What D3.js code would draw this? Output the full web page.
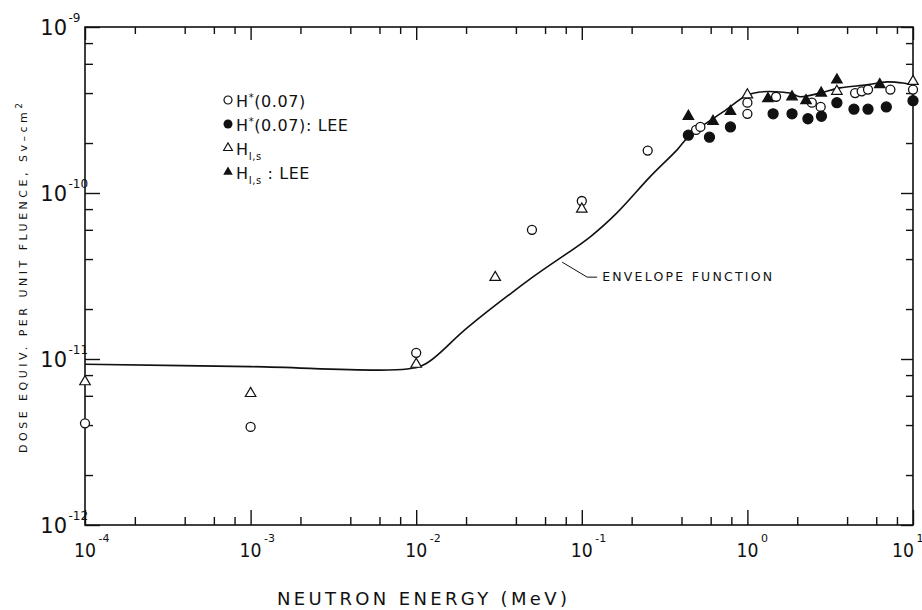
<!DOCTYPE html>
<html>
<head>
<meta charset="utf-8">
<script src="https://cdn.jsdelivr.net/npm/d3@7"></script>
<style>
  html, body { margin: 0; padding: 0; background: #fff; }
  svg { display: block; }
  text { font-family: "DejaVu Sans", "Liberation Sans", sans-serif; fill: #111; }
</style>
</head>
<body>
<div id="chart"></div>
<script>
// Dose equivalent per unit fluence vs neutron energy (log-log)

// envelope function, [energy MeV, dose Sv-cm2]
const envelopeE = [1e-4, 1e-3, 0.0088, 0.0115, 0.0203, 0.0507, 0.112, 0.163, 0.258, 0.376, 0.45, 0.713, 1.0, 1.19, 1.81, 2.08, 2.74, 3.62, 5.27, 6.97, 8.71, 10];
const envelopeD = [9.3e-12, 9.0e-12, 8.7e-12, 9.4e-12, 1.54e-11, 3.12e-11, 5.43e-11, 7.59e-11, 1.25e-10, 1.82e-10, 2.23e-10, 3.08e-10, 3.89e-10, 4.06e-10, 4.0e-10, 3.8e-10, 4.0e-10, 4.3e-10, 4.48e-10, 4.67e-10, 4.6e-10, 4.48e-10];

// H*(0.07) - open circles
const hStarE = [1e-4, 1e-3, 1e-2, 0.05, 0.1, 0.25, 0.49, 0.52, 1.0, 1.0, 1.49, 2.45, 2.77, 4.47, 4.9, 5.35, 7.3, 10];
const hStarD = [4.1e-12, 3.9e-12, 1.09e-11, 6.0e-11, 8.95e-11, 1.8e-10, 2.4e-10, 2.5e-10, 3.5e-10, 3.0e-10, 3.8e-10, 3.5e-10, 3.3e-10, 4.0e-10, 4.1e-10, 4.2e-10, 4.2e-10, 4.2e-10];

// H*(0.07): LEE - filled circles
const hStarLeeE = [0.44, 0.59, 0.79, 1.43, 1.86, 2.32, 2.8, 3.47, 4.4, 5.35, 6.9, 10];
const hStarLeeD = [2.23e-10, 2.17e-10, 2.5e-10, 3.0e-10, 3.0e-10, 2.8e-10, 2.9e-10, 3.5e-10, 3.2e-10, 3.2e-10, 3.3e-10, 3.6e-10];

// H_I,s - open triangles
const hIsE = [1e-4, 1e-3, 1e-2, 0.03, 0.1, 1.0, 3.47, 10];
const hIsD = [7.3e-12, 6.2e-12, 9.3e-12, 3.1e-11, 8.0e-11, 3.9e-10, 4.1e-10, 4.7e-10];

// H_I,s: LEE - filled triangles
const hIsLeeE = [0.44, 0.62, 0.79, 1.33, 1.86, 2.26, 2.79, 3.47, 6.3];
const hIsLeeD = [2.9e-10, 2.7e-10, 3.1e-10, 3.7e-10, 3.8e-10, 3.6e-10, 4.0e-10, 4.8e-10, 4.5e-10];

const xMajor = [1e-4, 1e-3, 1e-2, 1e-1, 1, 10];
const xMajorExp = ['-4', '-3', '-2', '-1', '0', '1'];
const yMajor = [1e-12, 1e-11, 1e-10, 1e-9];
const yMajorExp = ['-12', '-11', '-10', '-9'];

const width = 922, height = 610;
const margin = { top: 27, right: 9, bottom: 85, left: 85 };

const svg = d3.select('#chart').append('svg')
  .attr('width', width)
  .attr('height', height);

const x = d3.scaleLog().domain([1e-4, 10]).range([margin.left, width - margin.right]);
const y = d3.scaleLog().domain([1e-12, 1e-9]).range([height - margin.bottom, margin.top]);

// minor ticks at 2,4,6,8 of each decade
const minorOf = majors => majors.slice(0, -1).flatMap(d => [2, 4, 6, 8].map(m => m * d));
const xMinor = minorOf(xMajor);
const yMinor = minorOf(yMajor);

const x0 = x.range()[0], x1 = x.range()[1];
const y0 = y.range()[0], y1 = y.range()[1];

// Axes (ticks pointing inward on all four sides)
const addAxis = (axisFn, scale, values, size, transform) => {
  const g = svg.append('g')
    .attr('transform', transform)
    .call(axisFn(scale).tickValues(values).tickSize(size).tickFormat(''));
  g.select('.domain').remove();
  g.selectAll('line').attr('stroke', '#111').attr('stroke-width', 1.4);
};

addAxis(d3.axisBottom, x, xMajor, -15, `translate(0,${y0})`);
addAxis(d3.axisBottom, x, xMinor, -8, `translate(0,${y0})`);
addAxis(d3.axisTop, x, xMajor, -13, `translate(0,${y1})`);
addAxis(d3.axisTop, x, xMinor, -7, `translate(0,${y1})`);
addAxis(d3.axisLeft, y, yMajor, -15, `translate(${x0},0)`);
addAxis(d3.axisLeft, y, yMinor, -8, `translate(${x0},0)`);
addAxis(d3.axisRight, y, yMajor, -12, `translate(${x1},0)`);
addAxis(d3.axisRight, y, yMinor, -7, `translate(${x1},0)`);

// Frame
svg.append('rect')
  .attr('x', x0).attr('y', y1)
  .attr('width', x1 - x0).attr('height', y0 - y1)
  .attr('fill', 'none')
  .attr('stroke', '#111')
  .attr('stroke-width', 1.6);

// Tick labels: "10" with superscript exponent
const xLabels = svg.append('g');
xMajor.forEach((v, i) => {
  const last = i === xMajor.length - 1;
  const tx = last ? x(v) - 10 : x(v);
  xLabels.append('text')
    .attr('x', tx).attr('y', y0 + 32)
    .attr('text-anchor', 'middle')
    .attr('font-size', 20)
    .attr('textLength', 22)
    .attr('lengthAdjust', 'spacingAndGlyphs')
    .text('10');
  xLabels.append('text')
    .attr('x', tx + 13.5).attr('y', y0 + 17)
    .attr('font-size', 11)
    .text(xMajorExp[i]);
});

const yLabels = svg.append('g');
yMajor.forEach((v, i) => {
  yLabels.append('text')
    .attr('x', 67).attr('y', y(v) + 8)
    .attr('text-anchor', 'end')
    .attr('font-size', 21)
    .text('10');
  yLabels.append('text')
    .attr('x', 68.5).attr('y', y(v) - 5)
    .attr('font-size', 12)
    .text(yMajorExp[i]);
});

// Axis titles
svg.append('text')
  .attr('x', 422).attr('y', 605)
  .attr('text-anchor', 'middle')
  .attr('font-size', 18)
  .attr('textLength', 290)
  .attr('lengthAdjust', 'spacing')
  .text('NEUTRON ENERGY (MeV)');

const yTitle = svg.append('text')
  .attr('transform', 'translate(27,278) rotate(-90)')
  .attr('text-anchor', 'middle')
  .attr('font-size', 11)
  .attr('textLength', 350)
  .attr('lengthAdjust', 'spacing');
yTitle.append('tspan').text('DOSE EQUIV. PER UNIT FLUENCE, Sv\u2013cm');
yTitle.append('tspan').attr('dy', -5).attr('font-size', 9).text('2');

// Envelope function
const envelope = envelopeE.map((e, i) => [e, envelopeD[i]]);
svg.append('path')
  .datum(envelope)
  .attr('fill', 'none')
  .attr('stroke', '#111')
  .attr('stroke-width', 1.6)
  .attr('d', d3.line()
    .x(d => x(d[0]))
    .y(d => y(d[1]))
    .curve(d3.curveCatmullRom.alpha(0.5)));

// Leader and label for the envelope
const leadE = 0.074;
const leadX = x(leadE), leadY = y(3.94e-11);
svg.append('path')
  .attr('fill', 'none')
  .attr('stroke', '#111')
  .attr('stroke-width', 1)
  .attr('d', `M${leadX + 2},${leadY + 2} L${leadX + 27},${leadY + 17} L${leadX + 37},${leadY + 17}`);
svg.append('text')
  .attr('x', leadX + 42).attr('y', leadY + 21)
  .attr('font-size', 12.5)
  .attr('textLength', 170)
  .attr('lengthAdjust', 'spacing')
  .text('ENVELOPE FUNCTION');

// Data points
const triangle = d3.symbol().type(d3.symbolTriangle).size(48);

const drawCircles = (es, ds, filled) => {
  svg.append('g').selectAll('circle')
    .data(es.map((e, i) => [e, ds[i]]))
    .join('circle')
    .attr('cx', d => x(d[0]))
    .attr('cy', d => y(d[1]))
    .attr('r', filled ? 5 : 4.5)
    .attr('fill', filled ? '#111' : '#fff')
    .attr('stroke', '#111')
    .attr('stroke-width', 1.3);
};

const drawTriangles = (es, ds, filled) => {
  svg.append('g').selectAll('path')
    .data(es.map((e, i) => [e, ds[i]]))
    .join('path')
    .attr('transform', d => `translate(${x(d[0])},${y(d[1])})`)
    .attr('d', triangle)
    .attr('fill', filled ? '#111' : '#fff')
    .attr('stroke', '#111')
    .attr('stroke-width', 1.2);
};

drawCircles(hStarE, hStarD, false);
drawTriangles(hIsE, hIsD, false);
drawCircles(hStarLeeE, hStarLeeD, true);
drawTriangles(hIsLeeE, hIsLeeD, true);

// Legend
const legend = svg.append('g').attr('transform', 'translate(228,100)');
const rowH = 24;

legend.append('circle').attr('cx', 0).attr('cy', 0).attr('r', 4)
  .attr('fill', '#fff').attr('stroke', '#111').attr('stroke-width', 1.2);
legend.append('circle').attr('cx', 0).attr('cy', rowH).attr('r', 4.5)
  .attr('fill', '#111');
legend.append('path').attr('transform', `translate(0,${2 * rowH})`)
  .attr('d', d3.symbol().type(d3.symbolTriangle).size(34))
  .attr('fill', '#fff').attr('stroke', '#111').attr('stroke-width', 1.1);
legend.append('path').attr('transform', `translate(0,${3 * rowH})`)
  .attr('d', d3.symbol().type(d3.symbolTriangle).size(40))
  .attr('fill', '#111');

const legendRow = (i, suffix, star) => {
  const t = legend.append('text')
    .attr('x', 8).attr('y', i * rowH + 7)
    .attr('font-size', 16)
    .attr('letter-spacing', 0.6);
  t.append('tspan').text('H');
  if (star) {
    t.append('tspan').attr('dy', -6).attr('font-size', 10).text('*');
    t.append('tspan').attr('dy', 6).text(suffix);
  } else {
    t.append('tspan').attr('dy', 5).attr('font-size', 10).text('I,s');
    t.append('tspan').attr('dy', -5).text(suffix);
  }
};
legendRow(0, '(0.07)', true);
legendRow(1, '(0.07): LEE', true);
legendRow(2, '', false);
legendRow(3, ' : LEE', false);
</script>
</body>
</html>
